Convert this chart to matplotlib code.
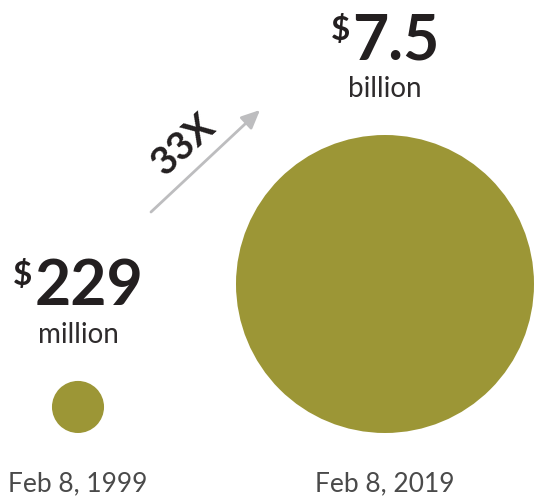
import numpy as np
import matplotlib
matplotlib.use("Agg")
import matplotlib.pyplot as plt
from matplotlib.patches import Circle, FancyArrowPatch

# Market value, in millions of dollars
values = [229, 7500]
amount_labels = ["229", "7.5"]
unit_labels = ["million", "billion"]
dates = ["Feb 8, 1999", "Feb 8, 2019"]

W, H = 534, 496
fig = plt.figure(figsize=(W / 100, H / 100), dpi=100)
ax = fig.add_axes([0, 0, 1, 1])
ax.set_xlim(0, W)
ax.set_ylim(H, 0)
ax.set_aspect("equal")
ax.axis("off")

OLIVE = "#9c9636"
INK = "#231f20"
GREY_TXT = "#4a4a4a"
FONT = ["Lato", "DejaVu Sans"]

# circle areas proportional to value
k = 149 / np.sqrt(max(values))
radii = [k * np.sqrt(v) for v in values]
centers_x = [78, 385]
base_y = 433  # circles share a common bottom line

for cx, r in zip(centers_x, radii):
    ax.add_patch(Circle((cx, base_y - r), r, facecolor=OLIVE, edgecolor="none"))

# date labels under each circle
for cx, d in zip(centers_x, dates):
    ax.text(cx, 491, d, ha="center", va="baseline", fontsize=19,
            family=FONT, weight="normal", color=GREY_TXT)

# headline amounts with superscript dollar sign
amount_base = [305, 60]
unit_base = [343, 97]
fig.canvas.draw()
renderer = fig.canvas.get_renderer()
for cx, amt, unit, yb, yu in zip(centers_x, amount_labels, unit_labels,
                                 amount_base, unit_base):
    num = ax.text(0, yb, amt, ha="left", va="baseline", fontsize=45,
                  family=FONT, weight="bold", color=INK)
    dol = ax.text(0, yb, "$", ha="left", va="baseline", fontsize=24,
                  family=FONT, weight="bold", color=INK)
    wn = num.get_window_extent(renderer).width
    wd = dol.get_window_extent(renderer).width
    gap = 2
    left = cx - (wn + wd + gap) / 2
    dol.set_position((left, yb - 20))
    num.set_position((left + wd + gap, yb))
    ax.text(cx, yu, unit, ha="center", va="baseline", fontsize=20,
            family=FONT, weight="normal", color="#2e2b2c")

# growth arrow and multiple
ax.add_patch(FancyArrowPatch((151, 212), (260, 110),
                             arrowstyle="-|>,head_length=7,head_width=3.2",
                             mutation_scale=1.6, color="#bdbdbf", lw=2,
                             shrinkA=0, shrinkB=0))
ratio = values[1] / values[0]
ax.text(183, 145, f"{round(ratio)}X", ha="center", va="center", rotation=42,
        rotation_mode="anchor", fontsize=28, family=FONT, weight="bold", color=INK)

fig.savefig("out.png", dpi=100)
